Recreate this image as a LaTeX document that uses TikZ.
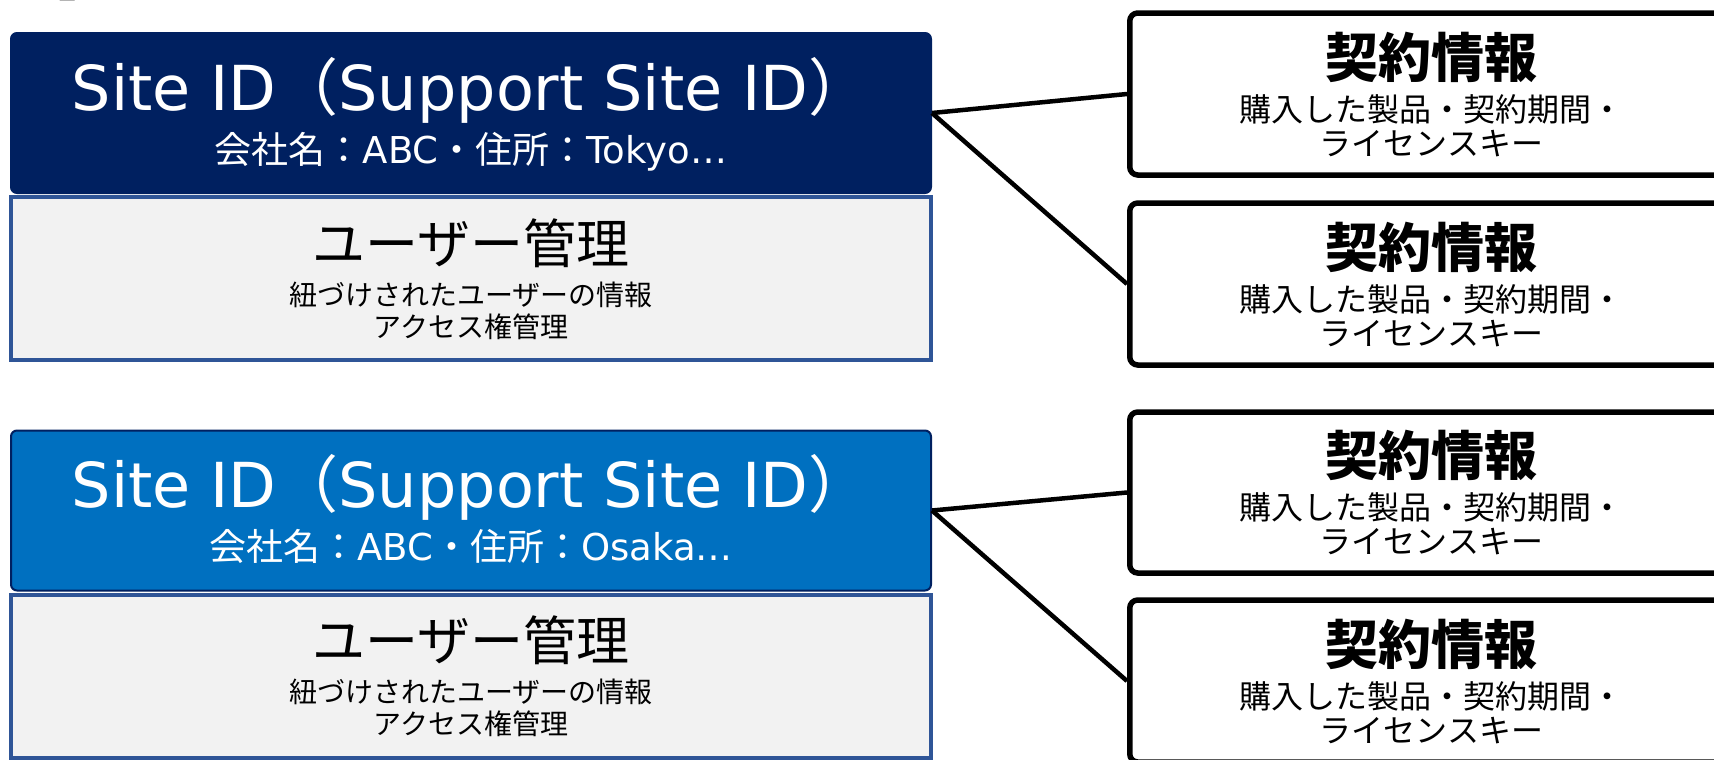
\documentclass[tikz,border=0pt]{standalone}
\usepackage{fontspec}
\setmainfont{DejaVu Sans}
\newfontfamily\jpfont{Noto Sans CJK JP}
\usepackage{xcolor}
\usetikzlibrary{calc}

\definecolor{sitenavy}{RGB}{0,32,96}
\definecolor{siteblue}{RGB}{0,112,192}
\definecolor{userline}{RGB}{47,85,151}
\definecolor{usergray}{RGB}{242,242,242}

\tikzset{
	sitebox/.style={draw=sitenavy, line width=1pt, rounded corners=3pt, minimum width=460pt, minimum height=80pt, inner sep=0pt},
	userbox/.style={draw=userline, fill=usergray, line width=2pt, minimum width=460pt, minimum height=81.5pt, inner sep=0pt},
	contractbox/.style={draw=black, fill=white, line width=2.75pt, rounded corners=4pt, minimum width=301.75pt, minimum height=81pt, inner sep=0pt},
	link/.style={draw=black, line width=2.25pt},
	txt/.style={anchor=base, inner sep=0pt, align=center},
	titletext/.style={txt, text=white, font=\fontsize{31}{37}\selectfont},
	subtext/.style={txt, text=white, font=\fontsize{18.5}{22}\selectfont},
	usertitle/.style={txt, font=\jpfont\fontsize{26.5}{32}\selectfont},
	usertext/.style={txt, font=\jpfont\fontsize{14}{17}\selectfont},
	contracttitle/.style={txt, font=\jpfont\bfseries\fontsize{26.5}{32}\selectfont},
	contracttext/.style={txt, font=\jpfont\fontsize{16}{19}\selectfont}
}

\newcommand{\sitetitle}{Site ID{\jpfont （}Support Site ID{\jpfont ）}}

\begin{document}
\begin{tikzpicture}[x=0.5pt, y=-0.5pt]
	\useasboundingbox (0,0) rectangle (1714,760);
	\clip (0,0) rectangle (1714,760);

	\node[anchor=base west, inner sep=0pt, font=\jpfont\fontsize{25}{30}\selectfont] (fig) at (8,-3.5) {図】};

	\node[sitebox, fill=sitenavy] (site1) at (471,113) {};
	\node[userbox] (user1) at (471,278.5) {};
	\node[sitebox, fill=siteblue] (site2) at (471,510.5) {};
	\node[userbox] (user2) at (471,676) {};

	\node[contractbox] (c1) at (1431.5,94) {};
	\node[contractbox] (c2) at (1431.5,284) {};
	\node[contractbox, minimum height=80.5pt] (c3) at (1431.5,492.5) {};
	\node[contractbox] (c4) at (1431.5,681) {};

	\draw[link] (site1.east) -- (c1.west);
	\draw[link] (site1.east) -- (c2.west);
	\draw[link] (site2.east) -- (c3.west);
	\draw[link] (site2.east) -- (c4.west);

	\node[titletext] (site1title) at (471,110) {\sitetitle};
	\node[subtext] (site1info) at (471,163) {{\jpfont 会社名：}ABC{\jpfont ・住所：}Tokyo…};
	\node[titletext] (site2title) at (471,507.5) {\sitetitle};
	\node[subtext] (site2info) at (471,560.5) {{\jpfont 会社名：}ABC{\jpfont ・住所：}Osaka…};

	\node[usertitle] (user1title) at (471,263) {ユーザー管理};
	\node[usertext] (user1info) at (471,305) {紐づけされたユーザーの情報};
	\node[usertext] (user1acl) at (471,337) {アクセス権管理};
	\node[usertitle] (user2title) at (471,660) {ユーザー管理};
	\node[usertext] (user2info) at (471,702) {紐づけされたユーザーの情報};
	\node[usertext] (user2acl) at (471,734) {アクセス権管理};

	\foreach \c in {c1,c2,c3,c4}{
		\node[contracttitle] (\c title) at ($(\c.center)+(0,-17)$) {契約情報};
		\node[contracttext] (\c info) at ($(\c.center)+(0,27)$) {購入した製品・契約期間・};
		\node[contracttext] (\c key) at ($(\c.center)+(0,61)$) {ライセンスキー};
	}
\end{tikzpicture}
\end{document}
